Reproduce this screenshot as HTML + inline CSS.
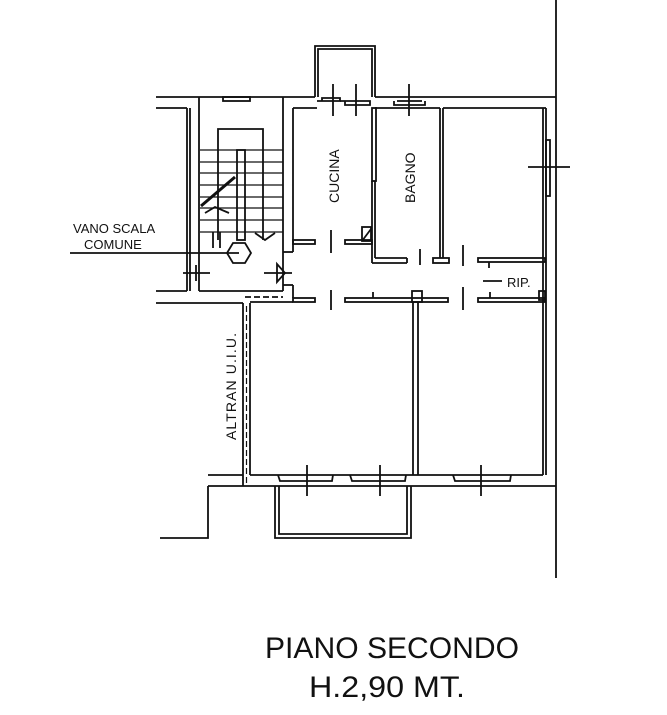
<!DOCTYPE html>
<html><head><meta charset="utf-8"><style>
html,body{margin:0;padding:0;background:#fff}
svg{display:block}
text{font-family:"Liberation Sans",sans-serif;fill:#111}
</style></head><body>
<svg width="667" height="715" viewBox="0 0 667 715" xmlns="http://www.w3.org/2000/svg">
<g fill="none" stroke="#111" stroke-width="1.8">
<line x1="556" y1="0" x2="556" y2="578"/>
<line x1="156" y1="97" x2="315" y2="97"/>
<line x1="375" y1="97" x2="556" y2="97"/>
<line x1="156" y1="108" x2="187" y2="108"/>
<line x1="293" y1="108" x2="317" y2="108"/>
<line x1="443" y1="108" x2="546" y2="108"/>
<line x1="375" y1="108" x2="440" y2="108"/>
<line x1="187" y1="108" x2="187" y2="291"/>
<line x1="190" y1="108" x2="190" y2="291"/>
<line x1="156" y1="291" x2="187" y2="291"/>
<line x1="156" y1="303" x2="243" y2="303"/>
<line x1="199" y1="97" x2="199" y2="291"/>
<line x1="199" y1="291" x2="283" y2="291"/>
<line x1="283" y1="97" x2="283" y2="252"/>
<line x1="293" y1="108" x2="293" y2="252"/>
<line x1="283" y1="252" x2="293" y2="252"/>
<line x1="283" y1="252" x2="283" y2="291"/>
<line x1="283" y1="285" x2="293" y2="285"/>
<line x1="293" y1="285" x2="293" y2="298"/>
<line x1="245" y1="297" x2="283" y2="297" stroke-dasharray="6,3"/>
<rect x="223" y="97" width="27" height="4"/>
<polyline points="218,240 218,129 263,129 263,240"/>
<rect x="237" y="150" width="8" height="90"/>
<g stroke-width="1.3">
<line x1="200" y1="150" x2="283" y2="150"/>
<line x1="200" y1="162" x2="283" y2="162"/>
<line x1="200" y1="173" x2="283" y2="173"/>
<line x1="200" y1="185" x2="283" y2="185"/>
<line x1="200" y1="197" x2="283" y2="197"/>
<line x1="200" y1="208" x2="283" y2="208"/>
<line x1="200" y1="220" x2="283" y2="220"/>
<line x1="200" y1="232" x2="283" y2="232"/>
</g>
<line x1="201" y1="206" x2="235" y2="177" stroke-width="3"/>
<polyline points="205,213 215,207 229,213"/>
<polyline points="255,233 265,240 275,233"/>
<line x1="213" y1="232" x2="213" y2="248"/><line x1="220" y1="232" x2="220" y2="248"/>
<polygon points="233,243 245,243 251,253 245,263 233,263 227,253"/>
<line x1="70" y1="253" x2="239" y2="253"/>
<line x1="183" y1="273" x2="210" y2="273"/><line x1="196" y1="265" x2="196" y2="281"/>
<polygon points="277,264 277,282 285,273"/>
<line x1="264" y1="273" x2="292" y2="273"/>
<polyline points="315,97 315,46 375,46 375,97"/>
<polyline points="318,97 318,49 372,49 372,97"/>
<polyline points="322,101 322,98 340,98 340,101 317,101"/>
<polyline points="345,101 345,105 370,105 370,101 340,101"/>
<polyline points="394,101 394,105 425,105 425,101"/>
<line x1="397" y1="101" x2="422" y2="101"/>
<line x1="333" y1="84" x2="333" y2="116"/>
<line x1="356" y1="84" x2="356" y2="116"/>
<line x1="409" y1="84" x2="409" y2="116"/>
<rect x="372" y="108" width="4" height="73"/>
<line x1="372" y1="181" x2="372" y2="263"/>
<line x1="375" y1="181" x2="375" y2="258"/>
<line x1="375" y1="258" x2="407" y2="258"/>
<line x1="372" y1="263" x2="407" y2="263"/>
<line x1="407" y1="258" x2="407" y2="263"/>
<rect x="362" y="227" width="9" height="14"/><line x1="362" y1="241" x2="371" y2="229"/>
<line x1="440" y1="108" x2="440" y2="258"/>
<line x1="443" y1="108" x2="443" y2="258"/>
<rect x="433" y="258" width="16" height="5"/>
<rect x="293" y="240" width="22" height="4"/>
<rect x="345" y="240" width="27" height="4"/>
<line x1="331" y1="230" x2="331" y2="253"/>
<line x1="420" y1="249" x2="420" y2="265"/>
<line x1="463" y1="245" x2="463" y2="266"/>
<rect x="478" y="258" width="67" height="4"/>
<line x1="489" y1="262" x2="489" y2="268"/>
<line x1="543" y1="108" x2="543" y2="475"/>
<line x1="546" y1="108" x2="546" y2="475"/>
<rect x="546" y="140" width="4" height="56"/>
<line x1="528" y1="167" x2="570" y2="167"/>
<line x1="483" y1="281" x2="502" y2="281"/>
<rect x="293" y="298" width="22" height="4"/>
<rect x="345" y="298" width="103" height="4"/>
<rect x="412" y="291" width="10" height="11"/>
<line x1="373" y1="292" x2="373" y2="298"/>
<line x1="331" y1="290" x2="331" y2="310"/>
<line x1="463" y1="287" x2="463" y2="310"/>
<rect x="478" y="298" width="67" height="4"/>
<line x1="490" y1="292" x2="490" y2="298"/>
<rect x="539" y="291" width="6" height="9"/>
<line x1="413" y1="302" x2="413" y2="475"/>
<line x1="418" y1="302" x2="418" y2="475"/>
<line x1="243" y1="303" x2="243" y2="486"/>
<line x1="250" y1="303" x2="250" y2="475"/>
<line x1="246.5" y1="306" x2="246.5" y2="484" stroke-dasharray="6,3" stroke-width="1.2"/>
<line x1="250" y1="302" x2="293" y2="302"/>
<line x1="250" y1="475" x2="543" y2="475"/>
<line x1="208" y1="475" x2="243" y2="475"/>
<line x1="208" y1="486" x2="556" y2="486"/>
<polyline points="208,486 208,538 160,538"/>
<polyline points="278,475 280,481 332,481 333,475"/>
<polyline points="350,475 352,481 405,481 406,475"/>
<polyline points="453,475 455,481 510,481 511,475"/>
<line x1="307" y1="465" x2="307" y2="496"/>
<line x1="380" y1="465" x2="380" y2="496"/>
<line x1="481" y1="465" x2="481" y2="496"/>
<polyline points="275,486 275,538 411,538 411,486"/>
<polyline points="279,486 279,534 407,534 407,486"/>
</g>
<g font-size="13">
<text x="73" y="233">VANO SCALA</text>
<text x="84" y="249">COMUNE</text>
<text x="507" y="287">RIP.</text>
<text transform="translate(339,203) rotate(-90)" font-size="14">CUCINA</text>
<text transform="translate(415,203) rotate(-90)" font-size="14">BAGNO</text>
<text transform="translate(236,440) rotate(-90)" font-size="14" textLength="107">ALTRAN U.I.U.</text>
</g>
<text x="265" y="658" font-size="30" textLength="254" lengthAdjust="spacingAndGlyphs">PIANO SECONDO</text>
<text x="309" y="697" font-size="30" textLength="156" lengthAdjust="spacingAndGlyphs">H.2,90 MT.</text>
</svg>
</body></html>
